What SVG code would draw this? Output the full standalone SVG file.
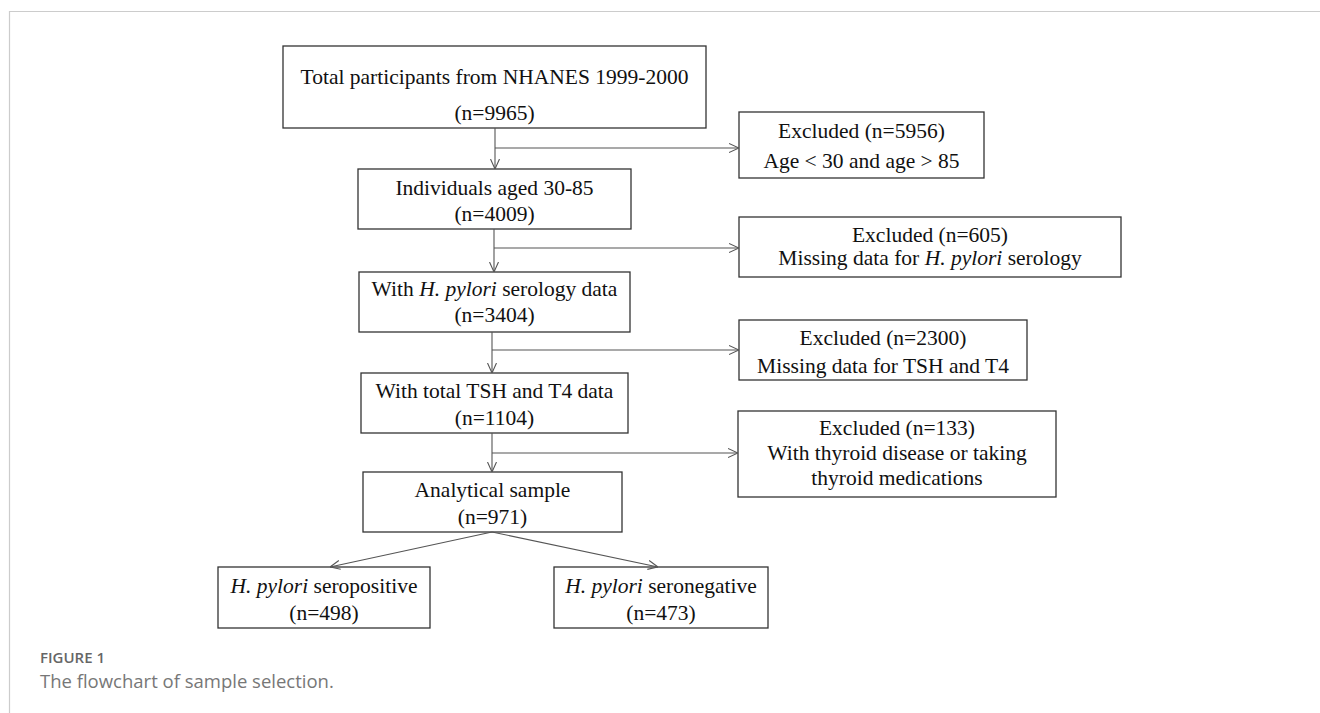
<svg xmlns="http://www.w3.org/2000/svg" width="1320" height="713" viewBox="0 0 1320 713">
<style>
.box{fill:#fff;stroke:#333;stroke-width:1.3}
.t{font-family:"Liberation Serif","Times New Roman",serif;font-size:21.5px;fill:#111;text-anchor:middle}
.c{fill:none;stroke:#555;stroke-width:1.1}
.frame{stroke:#ccc;stroke-width:1.2;fill:none}
</style>
<defs>
<marker id="ah" viewBox="0 0 10 10" refX="10" refY="5" markerWidth="10" markerHeight="10" markerUnits="userSpaceOnUse" orient="auto">
<path d="M0,0.5 L10,5 L0,9.5" fill="none" stroke="#555" stroke-width="1.1"/>
</marker>
</defs>
<rect width="1320" height="713" fill="#fff"/>
<path class="frame" d="M9.5,713 V11.5 H1320"/>
<g id="n1"><rect class="box" x="283" y="46" width="423" height="82"/>
<text class="t" x="494.5" y="84">Total participants from NHANES 1999-2000</text>
<text class="t" x="494.5" y="120">(n=9965)</text></g>
<g id="e1"><rect class="box" x="739" y="112" width="245" height="66"/>
<text class="t" x="861.5" y="138">Excluded (n=5956)</text>
<text class="t" x="861.5" y="168">Age &lt; 30 and age &gt; 85</text></g>
<g id="n2"><rect class="box" x="358" y="169" width="273" height="60"/>
<text class="t" x="494.5" y="195">Individuals aged 30-85</text>
<text class="t" x="494.5" y="221">(n=4009)</text></g>
<g id="e2"><rect class="box" x="739" y="217" width="382" height="60"/>
<text class="t" x="930" y="242">Excluded (n=605)</text>
<text class="t" x="930" y="265">Missing data for <tspan font-style="italic">H. pylori</tspan> serology</text></g>
<g id="n3"><rect class="box" x="359" y="272" width="271" height="60"/>
<text class="t" x="494.5" y="296">With <tspan font-style="italic">H. pylori</tspan> serology data</text>
<text class="t" x="494.5" y="322">(n=3404)</text></g>
<g id="e3"><rect class="box" x="739" y="320" width="288" height="60"/>
<text class="t" x="883" y="345">Excluded (n=2300)</text>
<text class="t" x="883" y="373">Missing data for TSH and T4</text></g>
<g id="n4"><rect class="box" x="361" y="373" width="267" height="60"/>
<text class="t" x="494.5" y="398">With total TSH and T4 data</text>
<text class="t" x="494.5" y="425">(n=1104)</text></g>
<g id="e4"><rect class="box" x="738" y="411" width="318" height="86"/>
<text class="t" x="897" y="435">Excluded (n=133)</text>
<text class="t" x="897" y="460">With thyroid disease or taking</text>
<text class="t" x="897" y="485">thyroid medications</text></g>
<g id="n5"><rect class="box" x="363" y="472" width="259" height="60"/>
<text class="t" x="492.5" y="497">Analytical sample</text>
<text class="t" x="492.5" y="524">(n=971)</text></g>
<g id="n6"><rect class="box" x="218" y="567" width="212" height="61"/>
<text class="t" x="324" y="593"><tspan font-style="italic">H. pylori</tspan> seropositive</text>
<text class="t" x="324" y="620">(n=498)</text></g>
<g id="n7"><rect class="box" x="554" y="567" width="214" height="61"/>
<text class="t" x="661" y="593"><tspan font-style="italic">H. pylori</tspan> seronegative</text>
<text class="t" x="661" y="620">(n=473)</text></g>
<g id="connectors">
<path class="c" d="M495,128 V169" marker-end="url(#ah)"/>
<path class="c" d="M495,148 H739" marker-end="url(#ah)"/>
<path class="c" d="M494,229 V272" marker-end="url(#ah)"/>
<path class="c" d="M494,248 H739" marker-end="url(#ah)"/>
<path class="c" d="M492,332 V373" marker-end="url(#ah)"/>
<path class="c" d="M492,350 H739" marker-end="url(#ah)"/>
<path class="c" d="M492,433 V472" marker-end="url(#ah)"/>
<path class="c" d="M492,453 H738" marker-end="url(#ah)"/>
<path class="c" d="M492,532 L330,567" marker-end="url(#ah)"/>
<path class="c" d="M492,532 L658,567" marker-end="url(#ah)"/>
</g>
<g id="caption">
<text x="40" y="663" font-family="'Open Sans','Noto Sans',sans-serif" font-size="15" font-weight="600" fill="#666">FIGURE 1</text>
<text x="40" y="688" font-family="'Open Sans','Noto Sans',sans-serif" font-size="18.5" fill="#777">The flowchart of sample selection.</text>
</g>
</svg>
